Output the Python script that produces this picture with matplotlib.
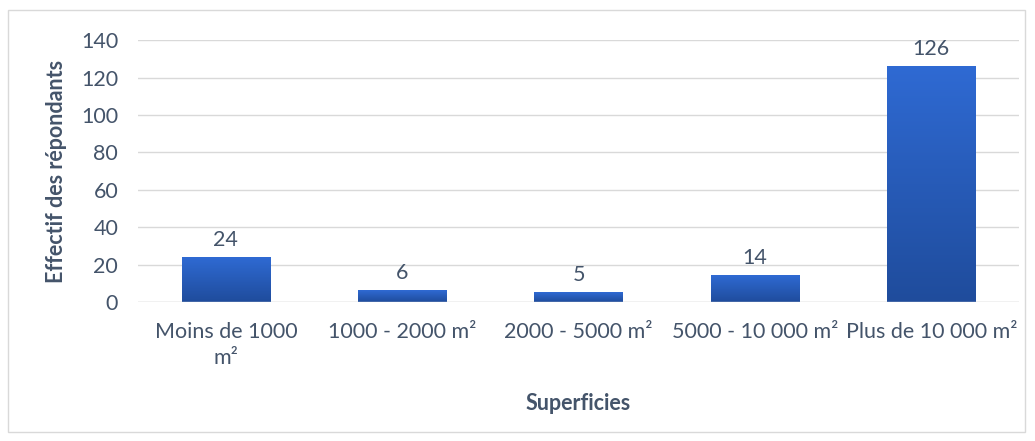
import numpy as np
import matplotlib.pyplot as plt
from matplotlib.colors import LinearSegmentedColormap
from matplotlib.patches import Rectangle

# données
categories = ["Moins de 1000\nm²", "1000 - 2000 m²", "2000 - 5000 m²",
              "5000 - 10 000 m²", "Plus de 10 000 m²"]
effectifs = [24, 6, 5, 14, 126]

plt.rcParams['font.family'] = ['Lato', 'DejaVu Sans']
txt = '#44546A'
fs = 15.5

fig = plt.figure(figsize=(10.35, 4.41), dpi=100)
ax = fig.add_axes([0.133, 0.315, 0.852, 0.594])

# cadre autour du graphique
fig.patches.append(Rectangle((0.008, 0.02), 0.982, 0.958, transform=fig.transFigure,
                             fill=False, edgecolor='#D9D9D9', lw=1))

x = np.arange(len(categories))
bars = ax.bar(x, effectifs, width=0.5, color='none', zorder=3)

# dégradé dans chaque barre
cmap = LinearSegmentedColormap.from_list('bleu', ['#1F4C9C', '#2F6AD3'])
grad = np.linspace(0, 1, 256).reshape(-1, 1)
for b in bars:
    x0, y0 = b.get_x(), b.get_y()
    w, h = b.get_width(), b.get_height()
    ax.imshow(grad, cmap=cmap, origin='lower', aspect='auto',
              extent=[x0, x0 + w, y0, y0 + h], zorder=3)
    ax.text(x0 + w / 2, h + 4, str(int(h)), ha='center', va='bottom',
            fontsize=fs, color=txt)

ax.set_xlim(-0.5, len(categories) - 0.5)
ax.set_ylim(0, 140)
ax.set_yticks(range(0, 141, 20))
ax.set_xticks(x)
ax.set_xticklabels(categories, linespacing=1.4)
ax.tick_params(axis='both', length=0, labelsize=fs, colors=txt)
ax.tick_params(axis='y', pad=14)
ax.tick_params(axis='x', pad=14)
ax.grid(axis='y', color='#D9D9D9', lw=1, zorder=0)
for s in ax.spines.values():
    s.set_visible(False)
ax.axhline(0, color='#D9D9D9', lw=1, zorder=4)

ax.set_xlabel('Superficies', fontsize=fs, fontweight='bold', color=txt, labelpad=18)
ax.set_ylabel('Effectif des répondants', fontsize=fs, fontweight='bold', color=txt, labelpad=10)

plt.savefig('out.png', dpi=100)
